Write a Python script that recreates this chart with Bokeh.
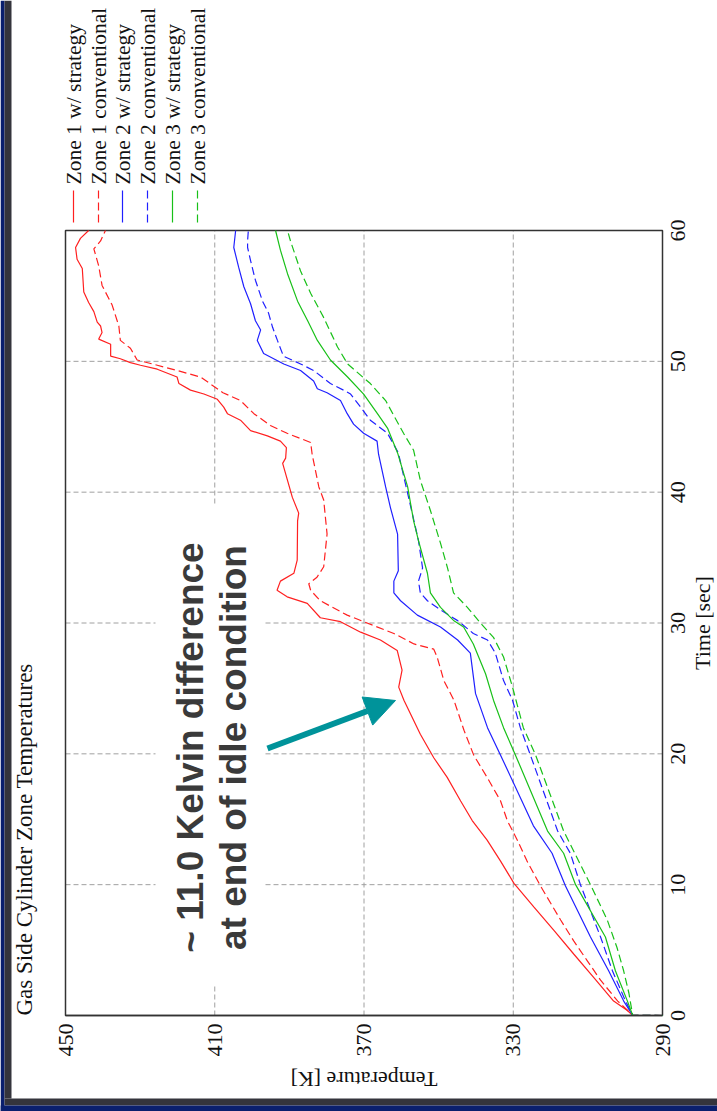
import math
from bokeh.plotting import figure
from bokeh.models import (Range1d, FixedTicker, LinearAxis, BoxAnnotation, Label, Arrow,
                          NormalHead)
from bokeh.core.properties import value
from bokeh.embed import file_html
from bokeh.resources import INLINE

# ---------------- data: time [sec] / temperature [K] ----------------
zone1_strategy_time = [0, 0.02, 0.4, 1.1, 2.9, 4.7, 6.5, 8.3, 10.1, 11.8, 13.4, 14.9, 16.4, 18.2,
                       19.7, 21.5, 24.1, 25.1, 26.4, 27.9, 28.7, 29.3, 30.1, 30.4, 31.5, 32.0,
                       32.5, 33.2, 33.8, 34.8, 37.8, 38.4, 39.6, 40.9, 42.2, 42.6, 43.4, 43.9,
                       44.3, 44.7, 45.5, 46.0, 46.5, 47.1, 47.5, 47.8, 48.3, 48.8, 49.4, 49.7,
                       49.9, 50.2, 50.4, 51.3, 51.7, 52.2, 52.7, 53.0, 53.8, 54.5, 55.3, 57.1,
                       57.8, 58.7, 59.4, 60.0]
zone1_strategy_temp = [290, 298, 299.5, 303.1, 308.4, 313.8, 319.1, 324.5, 329.8, 333.4, 337.0,
                       341.0, 344.1, 347.7, 351.3, 354.9, 359.3, 360.7, 359.8, 361.1, 365.6,
                       370.9, 376.3, 381.7, 385.2, 390.6, 393.3, 392.4, 388.8, 387.9, 387.8,
                       387.5, 389.2, 390.5, 391.8, 391.0, 390.8, 392.4, 395.9, 400.4, 403.1,
                       406.6, 407.6, 409.3, 412.9, 416.5, 419.6, 420.1, 425.4, 429.9, 432.6,
                       435.3, 437.9, 437.9, 441.1, 440.2, 440.6, 441.5, 442.4, 443.8, 445.1,
                       445.5, 446.9, 447.3, 446.0, 443.8]

zone1_conv_time = [0, 0.02, 1.1, 2.7, 4.2, 5.7, 7.3, 8.6, 9.9, 11.8, 13.4, 14.9, 16.4, 18.2, 19.9,
                   21.8, 24.1, 25.6, 27.4, 28.0, 28.4, 29.2, 29.8, 30.6, 31.7, 32.5, 33.0, 33.5,
                   34.3, 36.8, 39.4, 40.4, 42.9, 43.8, 44.5, 45.1, 46.0, 47.0, 47.6, 48.8, 49.3,
                   49.7, 50.1, 51.0, 51.6, 52.7, 54.3, 55.8, 57.3, 58.6, 59.2, 60.0]
zone1_conv_temp = [290, 298, 302.0, 306.6, 310.2, 313.8, 317.3, 320.0, 322.7, 326.3, 328.9, 331.6,
                   333.4, 337.0, 340.6, 343.2, 345.9, 348.6, 350.4, 351.3, 356.6, 362.0, 367.4,
                   374.5, 381.7, 384.3, 384.8, 382.6, 380.8, 379.9, 380.8, 382.1, 383.9, 384.3,
                   390.6, 395.1, 399.5, 403.1, 407.8, 413.8, 420.1, 425.4, 430.8, 432.6, 435.3,
                   435.7, 437.5, 440.2, 441.1, 442.4, 440.6, 439.3]

zone2_strategy_time = [0, 0.02, 1.1, 3.4, 6.0, 9.9, 12.4, 14.5, 19.9, 22.0, 24.6, 27.7, 28.7, 29.7,
                       30.6, 31.7, 32.3, 33.2, 34.0, 36.8, 38.8, 40.4, 42.9, 43.9, 44.5, 45.2,
                       46.0, 47.0, 47.6, 47.9, 48.5, 49.3, 49.8, 50.2, 50.6, 51.6, 52.4, 53.1,
                       54.4, 55.7, 57.2, 58.7, 60.0]
zone2_strategy_temp = [290, 298, 300.4, 304.4, 309.3, 316.0, 319.6, 324.6, 333.4, 336.9, 340.1,
                       341.5, 344.9, 349.5, 355.7, 360.2, 362.0, 362.0, 360.8, 361.0, 362.9,
                       364.2, 366.1, 366.5, 370.1, 372.8, 374.5, 376.3, 379.9, 382.5, 383.5,
                       387.0, 391.5, 394.2, 396.9, 398.6, 397.7, 399.1, 400.4, 402.2, 403.6,
                       404.9, 404.4]

zone2_conv_time = [0, 0.02, 1.1, 3.4, 6.0, 10.0, 12.4, 14.1, 19.9, 22.0, 24.1, 25.6, 27.7, 28.7,
                   29.2, 30.2, 31.0, 31.7, 32.3, 33.2, 34.2, 36.3, 37.3, 39.9, 43.0, 44.5, 45.5,
                   46.5, 47.5, 47.8, 48.3, 49.3, 49.8, 50.4, 51.6, 52.6, 53.7, 54.6, 56.2, 57.7,
                   58.7, 59.2, 60.0]
zone2_conv_temp = [290, 298, 299.9, 303.4, 306.6, 312.0, 314.7, 318.1, 325.4, 328.1, 330.2, 332.6,
                   334.8, 336.9, 340.7, 345.0, 349.5, 353.0, 354.9, 355.4, 354.3, 355.4, 356.2,
                   358.3, 360.8, 363.7, 368.3, 370.9, 373.6, 375.5, 379.0, 383.5, 387.0, 391.6,
                   393.2, 394.5, 395.6, 397.2, 399.1, 400.4, 401.2, 401.2, 401.0]

zone3_strategy_time = [0, 0.02, 1.1, 3.4, 6.0, 10.0, 12.4, 14.1, 19.9, 22.0, 24.1, 26.1, 28.4,
                       29.7, 30.2, 31.2, 32.3, 33.8, 36.3, 37.8, 40.4, 43.0, 44.9, 46.0, 47.5,
                       48.8, 50.1, 51.6, 53.1, 54.6, 56.7, 58.5, 60.0]
zone3_strategy_temp = [290, 298, 299.4, 302.6, 305.3, 313.3, 316.5, 320.8, 329.4, 332.6, 335.3,
                       337.4, 340.7, 343.3, 346.0, 349.5, 352.2, 353.0, 355.4, 356.7, 358.3,
                       361.0, 363.7, 366.4, 370.1, 374.4, 379.0, 382.5, 385.1, 387.8, 390.5,
                       392.4, 393.7]

zone3_conv_time = [0, 0.02, 1.7, 3.4, 5.2, 7.3, 10.0, 14.1, 19.9, 22.0, 25.1, 27.4, 28.9, 30.0,
                   31.2, 32.3, 34.2, 36.1, 38.6, 40.9, 43.2, 44.5, 47.0, 48.3, 49.8, 51.1, 53.4,
                   55.2, 56.9, 59.2, 60.0]
zone3_conv_temp = [290, 298, 299.0, 300.4, 302.2, 304.8, 309.3, 316.5, 324.0, 327.3, 330.2,
                   332.6, 335.3, 338.8, 342.3, 346.0, 347.6, 349.5, 352.2, 354.9, 356.7, 359.4,
                   364.2, 368.3, 374.4, 377.1, 380.9, 384.3, 387.0, 389.7, 390.5]

series_labels = ["Zone 1 w/ strategy", "Zone 1 conventional",
                 "Zone 2 w/ strategy", "Zone 2 conventional",
                 "Zone 3 w/ strategy", "Zone 3 conventional"]
series_times = [zone1_strategy_time, zone1_conv_time, zone2_strategy_time,
                zone2_conv_time, zone3_strategy_time, zone3_conv_time]
series_temps = [zone1_strategy_temp, zone1_conv_temp, zone2_strategy_temp,
                zone2_conv_temp, zone3_strategy_temp, zone3_conv_temp]

temp_ticks = [290, 330, 370, 410, 450]
time_ticks = [0, 10, 20, 30, 40, 50, 60]

title_text = "Gas Side Cylinder Zone Temperatures"
temp_label = "Temperature [K]"
time_label = "Time [sec]"
callout_lines = ["~ 11.0 Kelvin difference", "at end of idle condition"]

# ---------------- styling ----------------
RED, BLUE, GREEN = "#ff2020", "#2020ff", "#18c018"
series_colors = [RED, RED, BLUE, BLUE, GREEN, GREEN]
series_dashes = ["solid", "8 4", "solid", "8 4", "solid", "8 4"]
NAVY, DARKGREY, TEAL = "#0a1f6e", "#34343c", "#00939a"
FRAME_COLOR = "#333333"
GRID_COLOR = "#a0a0a0"
TEXT_COLOR = "#111111"
SERIF = "Liberation Serif"

# The chart is laid out turned a quarter turn: temperature runs right-to-left
# along the page width, time runs upwards. The frame fills the whole page and
# these helpers convert page pixels into data units for placing decorations.
W, H = 717, 1111
BOX_L, BOX_R, BOX_B, BOX_T = 65, 662, 1015, 230
T_HI, T_LO = max(temp_ticks), min(temp_ticks)
t_end = max(time_ticks)


def temp_at(px):
    return T_HI - (px - BOX_L) * (T_HI - T_LO) / (BOX_R - BOX_L)


def time_at(py):
    return (BOX_B - py) * t_end / (BOX_B - BOX_T)


p = figure(width=W, height=H,
           x_range=Range1d(temp_at(0), temp_at(W)), y_range=Range1d(time_at(H), time_at(0)),
           x_axis_location=None, y_axis_location=None,
           output_backend="svg", toolbar_location=None, min_border=0,
           background_fill_color="white", border_fill_color="white")
p.outline_line_color = None
p.title.visible = False
p.grid.visible = False

# slide frame strips
for l, r, tp, bt, c in [(0, 4, 0, H, NAVY), (4, 11, 0, 1098, DARKGREY),
                        (4, W, 1098, 1105, DARKGREY), (0, W, 1105, H, NAVY)]:
    p.add_layout(BoxAnnotation(left=temp_at(l), right=temp_at(r), top=time_at(tp),
                               bottom=time_at(bt), fill_color=c, fill_alpha=1.0,
                               line_color=None, level="underlay"))

# dashed grid inside the plot box
inner_temps = [v for v in temp_ticks if T_LO < v < T_HI]
inner_times = [v for v in time_ticks if 0 < v < t_end]
p.segment(x0=inner_temps, y0=[0] * len(inner_temps), x1=inner_temps, y1=[t_end] * len(inner_temps),
          line_color=GRID_COLOR, line_dash="5 3", line_width=1, level="image")
p.segment(x0=[T_HI] * len(inner_times), y0=inner_times, x1=[T_LO] * len(inner_times), y1=inner_times,
          line_color=GRID_COLOR, line_dash="5 3", line_width=1, level="image")

# white panel behind the callout text
p.add_layout(BoxAnnotation(left=temp_at(155), right=temp_at(264),
                           top=time_at(505), bottom=time_at(985),
                           fill_color="white", fill_alpha=1.0, line_color=None,
                           level="underlay"))

# plot box
p.quad(left=[T_HI], right=[T_LO], bottom=[0], top=[t_end], fill_color=None,
       line_color=FRAME_COLOR, line_width=1.5)

# temperature axis along the bottom edge of the box
xa = LinearAxis(fixed_location=0, bounds=(T_LO, T_HI), ticker=FixedTicker(ticks=temp_ticks))
xa.major_label_orientation = math.pi / 2
xa.major_label_text_baseline = "middle"
xa.major_label_text_font = SERIF
xa.major_label_text_font_size = "22px"
xa.major_label_text_color = TEXT_COLOR
xa.major_label_standoff = 8
xa.major_tick_in = 0
xa.major_tick_out = 0
xa.minor_tick_line_color = None
xa.axis_line_color = FRAME_COLOR
xa.axis_line_width = 1.5
p.add_layout(xa, "below")

# time tick labels along the right edge of the box
p.text(x=[temp_at(677)] * len(time_ticks), y=time_ticks, text=[str(v) for v in time_ticks],
       angle=math.pi / 2, text_align="center", text_baseline="middle",
       text_font=value(SERIF), text_font_size="22px", text_color=TEXT_COLOR)

# axis titles and chart title
p.text(x=[temp_at(702)], y=[t_end / 2], text=[time_label], angle=math.pi / 2,
       text_align="center", text_baseline="middle",
       text_font=value(SERIF), text_font_size="22px", text_color=TEXT_COLOR)
p.text(x=[(T_HI + T_LO) / 2], y=[time_at(1079)], text=[temp_label], angle=math.pi,
       text_align="center", text_baseline="middle",
       text_font=value(SERIF), text_font_size="22px", text_color=TEXT_COLOR)
p.text(x=[temp_at(24)], y=[0], text=[title_text], angle=math.pi / 2,
       text_align="left", text_baseline="middle",
       text_font=value(SERIF), text_font_size="23px", text_color=TEXT_COLOR)

# curves
for times, temps, color, dash in zip(series_times, series_temps, series_colors, series_dashes):
    p.line(temps, times, line_color=color, line_width=1.2, line_dash=dash)

# legend above the plot box
legend_px = [73, 98, 122, 147, 172, 197]
for px, color, dash in zip(legend_px, series_colors, series_dashes):
    p.segment(x0=[temp_at(px)], y0=[time_at(222)], x1=[temp_at(px)], y1=[time_at(190)],
              line_color=color, line_dash=dash, line_width=1.2)
p.text(x=[temp_at(px) for px in legend_px], y=[time_at(184)] * len(legend_px),
       text=series_labels, angle=math.pi / 2, text_align="left", text_baseline="middle",
       text_font=value(SERIF), text_font_size="21.5px", text_color=TEXT_COLOR)

# callout
for txt, px in zip(callout_lines, [190, 233]):
    p.add_layout(Label(x=temp_at(px), y=time_at(747), text=txt, angle=math.pi / 2,
                       text_align="center", text_baseline="middle",
                       text_font="Liberation Sans", text_font_style="bold",
                       text_font_size="37px", text_color="#3a3a3a"))
p.add_layout(Arrow(end=NormalHead(size=30, fill_color=TEAL, line_color=TEAL),
                   x_start=temp_at(267), y_start=time_at(748),
                   x_end=temp_at(395), y_end=time_at(700),
                   line_color=TEAL, line_width=6))

open("out.html", "w").write(file_html(p, INLINE))
